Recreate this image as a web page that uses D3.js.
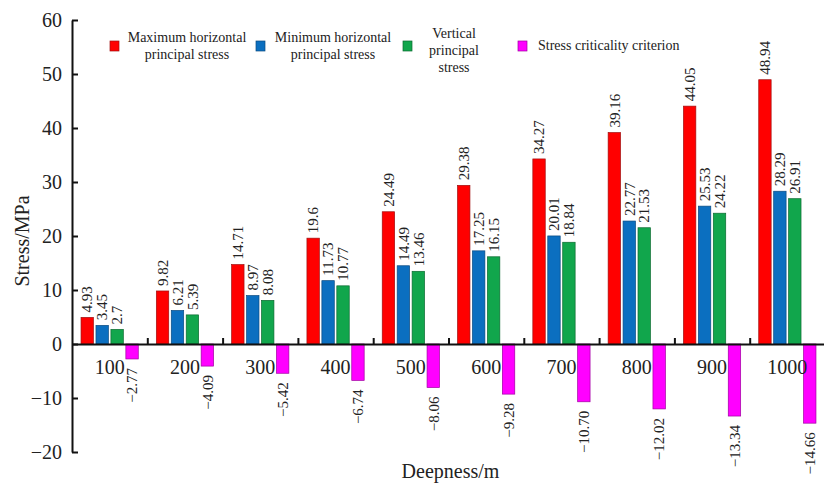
<!DOCTYPE html>
<html>
<head>
<meta charset="utf-8">
<script src="https://cdn.jsdelivr.net/npm/d3@7"></script>
<style>
  html, body { margin: 0; padding: 0; background: #fff; }
  svg { display: block; }
  text { font-family: "Liberation Serif", "Times New Roman", serif; fill: #222; }
</style>
</head>
<body>
<svg id="chart" width="824" height="487"></svg>
<script>
// Depth categories (m)
const depths = ["100", "200", "300", "400", "500", "600", "700", "800", "900", "1000"];
// Stress values (MPa) per depth
const maxHorizontal = [4.93, 9.82, 14.71, 19.6, 24.49, 29.38, 34.27, 39.16, 44.05, 48.94];
const minHorizontal = [3.45, 6.21, 8.97, 11.73, 14.49, 17.25, 20.01, 22.77, 25.53, 28.29];
const vertical = [2.7, 5.39, 8.08, 10.77, 13.46, 16.15, 18.84, 21.53, 24.22, 26.91];
const criticality = [-2.77, -4.09, -5.42, -6.74, -8.06, -9.28, -10.70, -12.02, -13.34, -14.66];
// Printed value labels
const maxLabels = ["4.93", "9.82", "14.71", "19.6", "24.49", "29.38", "34.27", "39.16", "44.05", "48.94"];
const minLabels = ["3.45", "6.21", "8.97", "11.73", "14.49", "17.25", "20.01", "22.77", "25.53", "28.29"];
const vertLabels = ["2.7", "5.39", "8.08", "10.77", "13.46", "16.15", "18.84", "21.53", "24.22", "26.91"];
const critLabels = ["\u22122.77", "\u22124.09", "\u22125.42", "\u22126.74", "\u22128.06", "\u22129.28", "\u221210.70", "\u221212.02", "\u221213.34", "\u221214.66"];
const yTicks = [-20, -10, 0, 10, 20, 30, 40, 50, 60];

const seriesNames = ["Maximum horizontal principal stress", "Minimum horizontal principal stress", "Vertical principal stress", "Stress criticality criterion"];
const legendLines = [["Maximum horizontal", "principal stress"], ["Minimum horizontal", "principal stress"], ["Vertical", "principal", "stress"], ["Stress criticality criterion"]];
const colors = ["#ff0000", "#0b6fc0", "#11a64c", "#ff00ff"];
const strokes = ["#a01010", "#0a4a80", "#0b6a30", "#a000a0"];

const series = [
  { name: seriesNames[0], values: maxHorizontal, labels: maxLabels },
  { name: seriesNames[1], values: minHorizontal, labels: minLabels },
  { name: seriesNames[2], values: vertical, labels: vertLabels },
  { name: seriesNames[3], values: criticality, labels: critLabels }
];

const svg = d3.select("#chart");
const plotLeft = 72, plotRight = 825, plotTop = 20, plotBottom = 452;

const y = d3.scaleLinear().domain([-20, 60]).range([plotBottom, plotTop]);
const x = d3.scaleBand().domain(depths).range([plotLeft, plotRight]).paddingInner(0.24).paddingOuter(0.12);
const xs = d3.scaleBand().domain(d3.range(series.length)).range([0, x.bandwidth()]).paddingInner(0.17);
const xb = d3.scaleLinear().domain([0, depths.length]).range([plotLeft, plotRight]);

// Bars
series.forEach((s, si) => {
  const g = svg.append("g");
  g.selectAll("rect").data(s.values).join("rect")
    .attr("x", (d, i) => x(depths[i]) + xs(si))
    .attr("width", xs.bandwidth())
    .attr("y", d => y(Math.max(0, d)))
    .attr("height", d => Math.abs(y(d) - y(0)))
    .attr("fill", colors[si])
    .attr("stroke", strokes[si])
    .attr("stroke-width", 0.7);

  // Rotated value labels
  g.selectAll("text").data(s.values).join("text")
    .attr("transform", (d, i) => {
      const cx = x(depths[i]) + xs(si) + xs.bandwidth() / 2;
      const cy = d >= 0 ? y(d) - 5 : y(d) + 9;
      return `translate(${cx},${cy}) rotate(-90)`;
    })
    .attr("dy", "0.35em")
    .attr("text-anchor", d => d >= 0 ? "start" : "end")
    .style("font-size", "15px")
    .text((d, i) => s.labels[i]);
});

// Y axis
const yAxis = svg.append("g")
  .attr("transform", `translate(${plotLeft},0)`)
  .call(d3.axisLeft(y).tickValues(yTicks).tickSizeInner(-6).tickSizeOuter(0).tickPadding(10)
    .tickFormat(d => d < 0 ? "\u2212" + Math.abs(d) : d));
yAxis.select(".domain").attr("stroke", "#111").attr("stroke-width", 2);
yAxis.selectAll(".tick line").attr("stroke", "#111").attr("stroke-width", 2);
yAxis.selectAll(".tick text").style("font-size", "20px").attr("fill", "#222");

// X axis line at zero with group boundary ticks
const xLine = svg.append("g")
  .attr("transform", `translate(0,${y(0)})`)
  .call(d3.axisBottom(xb).tickValues(d3.range(1, depths.length)).tickSizeInner(-6).tickSizeOuter(0).tickFormat(""));
xLine.select(".domain").attr("stroke", "#111").attr("stroke-width", 2);
xLine.selectAll(".tick line").attr("stroke", "#111").attr("stroke-width", 2);

// Category labels
const xAxis = svg.append("g")
  .attr("transform", `translate(0,${y(0)})`)
  .call(d3.axisBottom(x).tickSize(0).tickPadding(16));
xAxis.select(".domain").remove();
xAxis.selectAll(".tick text").style("font-size", "20px").attr("fill", "#222");

// Axis titles
svg.append("text")
  .attr("transform", `translate(22,${(plotTop + plotBottom) / 2 + 5}) rotate(-90)`)
  .attr("text-anchor", "middle")
  .attr("dy", "0.35em")
  .style("font-size", "20px")
  .text("Stress/MPa");

svg.append("text")
  .attr("x", (plotLeft + plotRight) / 2 + 2)
  .attr("y", 478)
  .attr("text-anchor", "middle")
  .style("font-size", "20px")
  .text("Deepness/m");

// Legend
const legendItems = [
  { sx: 110, sy: 41, tx: 187, anchor: "middle", base: 42 },
  { sx: 256, sy: 41, tx: 333, anchor: "middle", base: 42 },
  { sx: 403, sy: 41, tx: 454, anchor: "middle", base: 38 },
  { sx: 518, sy: 41, tx: 538, anchor: "start", base: 50 }
];
const legend = svg.append("g");
legendItems.forEach((it, i) => {
  legend.append("rect")
    .attr("x", it.sx).attr("y", it.sy)
    .attr("width", 9).attr("height", 10)
    .attr("fill", colors[i]).attr("stroke", strokes[i]).attr("stroke-width", 0.7);
  const t = legend.append("text")
    .attr("text-anchor", it.anchor)
    .style("font-size", "14px");
  legendLines[i].forEach((line, li) => {
    t.append("tspan").attr("x", it.tx).attr("y", it.base + li * 17).text(line);
  });
});
</script>
</body>
</html>
